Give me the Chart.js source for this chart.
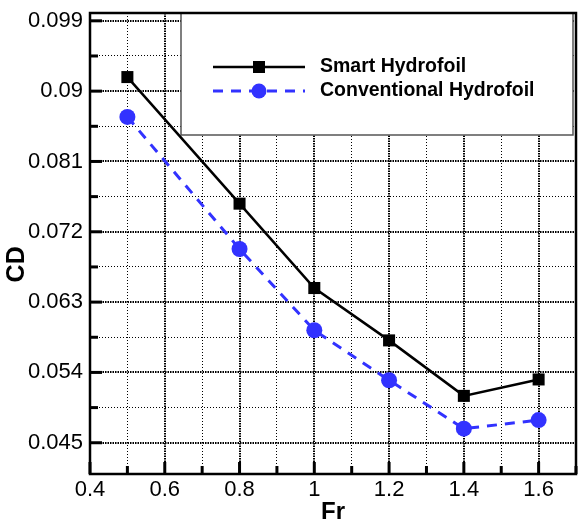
<!DOCTYPE html>
<html>
<head>
<meta charset="utf-8">
<script src="https://cdn.jsdelivr.net/npm/chart.js@4/dist/chart.umd.min.js"></script>
<style>
  html, body { margin: 0; padding: 0; background: #fff; }
  #wrap { width: 579px; height: 527px; }
</style>
</head>
<body>
<div id="wrap"><canvas id="chart" width="579" height="527"></canvas></div>
<script>
// Fr values
const froude = [0.5, 0.8, 1.0, 1.2, 1.4, 1.6];
// drag coefficient CD
const smartCD = [0.0918, 0.0756, 0.0648, 0.0581, 0.0510, 0.0531];
const conventionalCD = [0.0867, 0.0698, 0.0594, 0.0530, 0.0468, 0.0479];

// ticks (major = labelled, minor = thin grid)
const xMajor = [0.4, 0.6, 0.8, 1.0, 1.2, 1.4, 1.6];
const xMajorLabels = ['0.4', '0.6', '0.8', '1', '1.2', '1.4', '1.6'];
const xMinor = [0.5, 0.7, 0.9, 1.1, 1.3, 1.5, 1.7];
const yMajor = [0.045, 0.054, 0.063, 0.072, 0.081, 0.090, 0.099];
const yMajorLabels = ['0.045', '0.054', '0.063', '0.072', '0.081', '0.09', '0.099'];
const yMinor = [0.0495, 0.0585, 0.0675, 0.0765, 0.0855, 0.0945];

const BLUE = 'rgb(50, 50, 255)';
const FONT = 'Liberation Sans';

// 主目盛と副目盛をまとめる
function buildTicks(major, minor) {
    const list = major.map(v => ({ value: v, isMajor: true }))
        .concat(minor.map(v => ({ value: v, isMajor: false })));
    list.sort((a, b) => a.value - b.value);
    return list;
}

function labelFor(value, major, labels) {
    const i = major.findIndex(v => Math.abs(v - value) < 1e-9);
    return i >= 0 ? labels[i] : '';
}

const isMajorCtx = ctx => ctx.tick && ctx.tick.isMajor;

// 軸ラベルによる余白を無効にする
function noLabelPadding(s) {
    s.paddingTop = 0;
    s.paddingBottom = 0;
    s.paddingLeft = 0;
    s.paddingRight = 0;
}

// 凡例・枠・内向き目盛を描くプラグイン
const framePlugin = {
    id: 'frame',
    beforeDatasetsDraw(chart) {
        const { ctx, chartArea: a, scales } = chart;
        ctx.save();

        // inward tick marks
        ctx.strokeStyle = '#000';
        ctx.setLineDash([]);
        scales.y.ticks.forEach(t => {
            const y = scales.y.getPixelForValue(t.value);
            ctx.lineWidth = 3;
            ctx.beginPath();
            ctx.moveTo(a.left, y);
            ctx.lineTo(a.left + (t.isMajor ? 12 : 8), y);
            ctx.stroke();
        });
        scales.x.ticks.forEach(t => {
            const x = scales.x.getPixelForValue(t.value);
            ctx.lineWidth = 3;
            ctx.beginPath();
            ctx.moveTo(x, a.bottom);
            ctx.lineTo(x, a.bottom - (t.isMajor ? 12 : 8));
            ctx.stroke();
        });

        // legend box
        const bx = 181, by = a.top, bw = 392, bh = 122;
        ctx.fillStyle = '#fff';
        ctx.fillRect(bx, by, bw, bh);
        ctx.strokeStyle = '#555';
        ctx.lineWidth = 1.5;
        ctx.strokeRect(bx, by, bw, bh);

        const rows = [67, 91];
        chart.data.datasets.forEach((ds, i) => {
            const y = rows[i];
            ctx.strokeStyle = ds.borderColor;
            ctx.lineWidth = ds.borderWidth;
            ctx.setLineDash(ds.borderDash || []);
            ctx.beginPath();
            ctx.moveTo(213, y);
            ctx.lineTo(305, y);
            ctx.stroke();
            ctx.setLineDash([]);
            ctx.fillStyle = ds.pointBackgroundColor;
            if (ds.pointStyle === 'rect') {
                ctx.fillRect(253, y - 6, 12, 12);
            } else {
                ctx.beginPath();
                ctx.arc(259, y, 7.5, 0, Math.PI * 2);
                ctx.fill();
            }
            ctx.fillStyle = '#000';
            ctx.font = 'bold 19.5px "' + FONT + '"';
            ctx.textBaseline = 'middle';
            ctx.fillText(ds.label, 320, y);
        });

        // frame
        ctx.strokeStyle = '#000';
        ctx.lineWidth = 2.5;
        ctx.strokeRect(a.left, a.top, a.right - a.left, a.bottom - a.top);
        ctx.restore();
    }
};

new Chart(document.getElementById('chart'), {
    type: 'line',
    data: {
        datasets: [
            {
                label: 'Smart Hydrofoil',
                data: froude.map((x, i) => ({ x: x, y: smartCD[i] })),
                borderColor: '#000',
                borderWidth: 2.5,
                pointStyle: 'rect',
                pointRadius: 8.5,
                pointBackgroundColor: '#000',
                pointBorderWidth: 0,
                tension: 0
            },
            {
                label: 'Conventional Hydrofoil',
                data: froude.map((x, i) => ({ x: x, y: conventionalCD[i] })),
                borderColor: BLUE,
                borderWidth: 3,
                borderDash: [10, 8],
                pointStyle: 'circle',
                pointRadius: 8,
                pointBackgroundColor: BLUE,
                pointBorderWidth: 0,
                tension: 0
            }
        ]
    },
    options: {
        responsive: false,
        animation: false,
        layout: { autoPadding: false, padding: { left: 0, right: 3, top: 13, bottom: 0 } },
        plugins: { legend: { display: false }, tooltip: { enabled: false } },
        scales: {
            x: {
                type: 'linear',
                min: 0.4,
                max: 1.7,
                afterBuildTicks: s => { s.ticks = buildTicks(xMajor, xMinor); },
                afterFit: s => { s.height = 53; noLabelPadding(s); },
                ticks: {
                    autoSkip: false,
                    maxRotation: 0,
                    padding: 3,
                    color: '#000',
                    font: { family: FONT, size: 22 },
                    callback: v => labelFor(v, xMajor, xMajorLabels)
                },
                grid: {
                    drawTicks: false,
                    color: '#000',
                    lineWidth: c => isMajorCtx(c) ? 2 : 1
                },
                border: {
                    display: false,
                    dash: c => isMajorCtx(c) ? [1.5, 1] : [1, 2]
                },
                title: {
                    display: true,
                    text: 'Fr',
                    color: '#000',
                    font: { family: FONT, size: 24, weight: 'bold' },
                    padding: { top: 0, bottom: 0 }
                }
            },
            y: {
                type: 'linear',
                min: 0.041,
                max: 0.100,
                afterBuildTicks: s => { s.ticks = buildTicks(yMajor, yMinor); },
                afterFit: s => { s.width = 90; noLabelPadding(s); },
                ticks: {
                    autoSkip: false,
                    padding: 7,
                    color: '#000',
                    font: { family: FONT, size: 22 },
                    callback: v => labelFor(v, yMajor, yMajorLabels)
                },
                grid: {
                    drawTicks: false,
                    color: '#000',
                    lineWidth: c => isMajorCtx(c) ? 2 : 1
                },
                border: {
                    display: false,
                    dash: c => isMajorCtx(c) ? [1.5, 1] : [1, 2]
                },
                title: {
                    display: true,
                    text: 'CD      ',
                    color: '#000',
                    font: { family: FONT, size: 25, weight: 'bold' },
                    padding: { top: 2, bottom: 0 }
                }
            }
        }
    },
    plugins: [framePlugin]
});
</script>
</body>
</html>
